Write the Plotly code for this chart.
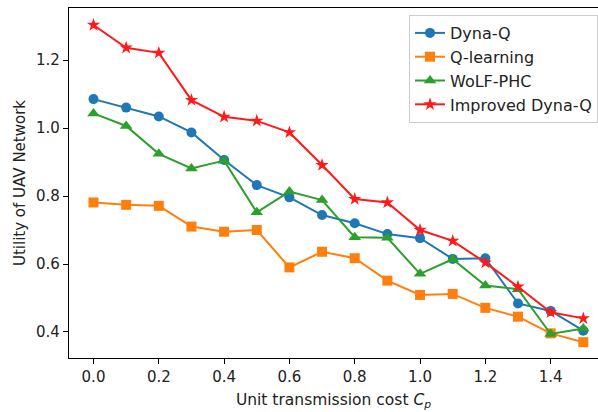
import plotly.graph_objects as go

cost = [0.0, 0.1, 0.2, 0.3, 0.4, 0.5, 0.6, 0.7, 0.8, 0.9, 1.0, 1.1, 1.2, 1.3, 1.4, 1.5]
dyna_q = [1.085, 1.060, 1.034, 0.987, 0.906, 0.832, 0.796, 0.744, 0.720, 0.688, 0.676, 0.615, 0.617, 0.484, 0.462, 0.404]
q_learning = [0.781, 0.774, 0.771, 0.710, 0.695, 0.700, 0.590, 0.636, 0.617, 0.551, 0.509, 0.512, 0.471, 0.445, 0.396, 0.370]
wolf_phc = [1.043, 1.006, 0.924, 0.881, 0.904, 0.752, 0.813, 0.788, 0.679, 0.677, 0.571, 0.614, 0.537, 0.526, 0.394, 0.410]
improved_dyna_q = [1.303, 1.236, 1.221, 1.082, 1.033, 1.021, 0.987, 0.891, 0.791, 0.781, 0.700, 0.668, 0.604, 0.533, 0.458, 0.440]

x_ticks = [0.0, 0.2, 0.4, 0.6, 0.8, 1.0, 1.2, 1.4]
x_tick_labels = ["0.0", "0.2", "0.4", "0.6", "0.8", "1.0", "1.2", "1.4"]
y_ticks = [0.4, 0.6, 0.8, 1.0, 1.2]
y_tick_labels = ["0.4", "0.6", "0.8", "1.0", "1.2"]

series = [
    ("Dyna-Q", dyna_q, "#1f77b4", "circle", 10),
    ("Q-learning", q_learning, "#ff7f0e", "square", 10),
    ("WoLF-PHC", wolf_phc, "#2ca02c", "triangle-up", 11),
    ("Improved Dyna-Q", improved_dyna_q, "#ff1a1a", "star", 10),
]

fig = go.Figure()
for name, vals, color, sym, size in series:
    fig.add_trace(go.Scatter(
        x=cost, y=vals, name=name, mode="lines+markers",
        line=dict(color=color, width=2),
        marker=dict(symbol=sym, size=size, color=color, line=dict(width=0)),
    ))

font = "DejaVu Sans"
fig.update_layout(
    width=598, height=412,
    margin=dict(l=69, r=0, t=8, b=54),
    paper_bgcolor="white", plot_bgcolor="white",
    font=dict(family=font, size=15, color="#222222"),
    showlegend=True,
    legend=dict(
        x=1.0, xanchor="right", y=0.98, yanchor="top",
        bordercolor="#cccccc", borderwidth=1, bgcolor="white",
        font=dict(family=font, size=16, color="#222222"),
    ),
    xaxis=dict(
        range=[-0.075, 1.545], tickvals=x_ticks, ticktext=x_tick_labels,
        showgrid=False, zeroline=False,
        showline=True, linecolor="black", linewidth=1.3, mirror=True,
        ticks="outside", ticklen=5, tickwidth=1, tickcolor="black",
        tickfont=dict(family=font, size=15, color="#222222"),
        title=dict(text="Unit transmission cost <i>C</i><sub><i>p</i></sub>",
                   font=dict(family=font, size=15.5, color="#222222"), standoff=8),
    ),
    yaxis=dict(
        range=[0.3235, 1.353], tickvals=y_ticks, ticktext=y_tick_labels,
        showgrid=False, zeroline=False,
        showline=True, linecolor="black", linewidth=1.3, mirror=False,
        ticks="outside", ticklen=5, tickwidth=1, tickcolor="black",
        tickfont=dict(family=font, size=15, color="#222222"),
        title=dict(text="Utility of UAV Network",
                   font=dict(family=font, size=15, color="#222222"), standoff=6),
    ),
)

fig.write_html("out.html")
